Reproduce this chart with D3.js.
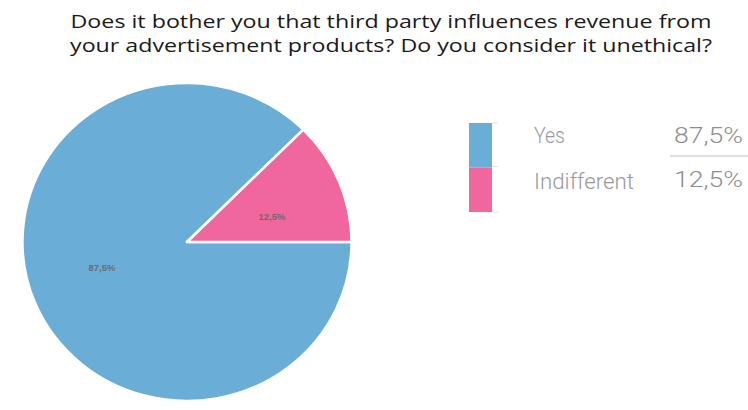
<!DOCTYPE html>
<html><head><meta charset="utf-8">
<script src="https://cdn.jsdelivr.net/npm/d3@7"></script>
<style>body{margin:0;background:#fff}svg{display:block}</style>
</head><body>
<script>
const categories = ["Yes", "Indifferent"];
const values = [87.5, 12.5];
const valueLabels = ["87,5%", "12,5%"];
const colors = ["#6aaed8", "#f0679e"];
const titleLines = ["Does it bother you that third party influences revenue from",
                    "your advertisement products? Do you consider it unethical?"];

const W = 748, H = 410;
const svg = d3.select("body").append("svg").attr("width", W).attr("height", H);

// title
svg.append("g").selectAll("text").data(titleLines).join("text")
  .attr("x", 391).attr("y", (d, i) => 28 + i * 24)
  .attr("text-anchor", "middle")
  .attr("font-family", "Open Sans, sans-serif").attr("font-size", 17.5)
  .attr("fill", "#1a1a1a")
  .attr("textLength", (d, i) => i === 0 ? 641 : 642)
  .attr("lengthAdjust", "spacingAndGlyphs")
  .text(d => d);

// pie
const cx = 187, cy = 242, r = 159;
const pie = d3.pie().sort(null).startAngle(Math.PI / 2).endAngle(Math.PI / 2 + 2 * Math.PI);
const arcs = pie(values);
const arc = d3.arc().innerRadius(0).outerRadius(r);
const g = svg.append("g").attr("transform", `translate(${cx},${cy}) scale(1.035,1)`);
g.selectAll("path").data(arcs).join("path")
  .attr("d", arc)
  .attr("fill", (d, i) => colors[i])
  .attr("stroke", "#fff").attr("stroke-width", 2.5).attr("stroke-linejoin", "round");

const lg = svg.append("g").attr("transform", `translate(${cx},${cy})`);
lg.selectAll("text").data(arcs).join("text")
  .attr("x", d => { const a = (d.startAngle + d.endAngle) / 2; return 92 * Math.sin(a); })
  .attr("y", d => { const a = (d.startAngle + d.endAngle) / 2; return -66 * Math.cos(a); })
  .attr("text-anchor", "middle").attr("dominant-baseline", "central")
  .attr("font-family", "Liberation Sans, Arial, sans-serif").attr("font-size", 9.5)
  .attr("font-weight", "bold").attr("fill", "#6b6b6b")
  .text((d, i) => valueLabels[i]);

// legend
const legY = d3.scaleBand().domain(categories).range([123, 212]);
const leg = svg.append("g");
leg.selectAll("rect").data(categories).join("rect")
  .attr("x", 469).attr("y", d => legY(d)).attr("width", 23).attr("height", legY.bandwidth())
  .attr("fill", (d, i) => colors[i]);
const tickYs = [123, 166.5, 212];
leg.selectAll("line.tk").data(tickYs).join("line").attr("class", "tk")
  .attr("x1", 492).attr("x2", 498).attr("y1", d => d).attr("y2", d => d)
  .attr("stroke", "#e2e2e2").attr("stroke-width", 1);
leg.selectAll("text.nm").data(categories).join("text").attr("class", "nm")
  .attr("x", 534).attr("y", (d, i) => i === 0 ? 143 : 189)
  .attr("font-family", "Roboto, sans-serif").attr("font-weight", 300).attr("font-size", 22)
  .attr("fill", "#9a9a9a")
  .attr("textLength", (d, i) => i === 0 ? 31 : 100).attr("lengthAdjust", "spacingAndGlyphs")
  .text(d => d);
leg.selectAll("text.vl").data(valueLabels).join("text").attr("class", "vl")
  .attr("x", 743).attr("y", (d, i) => i === 0 ? 143 : 187)
  .attr("text-anchor", "end")
  .attr("font-family", "Roboto, sans-serif").attr("font-weight", 300).attr("font-size", 22.5)
  .attr("fill", "#8e8e8e")
  .attr("textLength", 69).attr("lengthAdjust", "spacingAndGlyphs")
  .text(d => d);
leg.append("line").attr("x1", 670).attr("x2", 748).attr("y1", 156).attr("y2", 156)
  .attr("stroke", "#d4d4d4").attr("stroke-width", 1.5);
</script>
</body></html>
